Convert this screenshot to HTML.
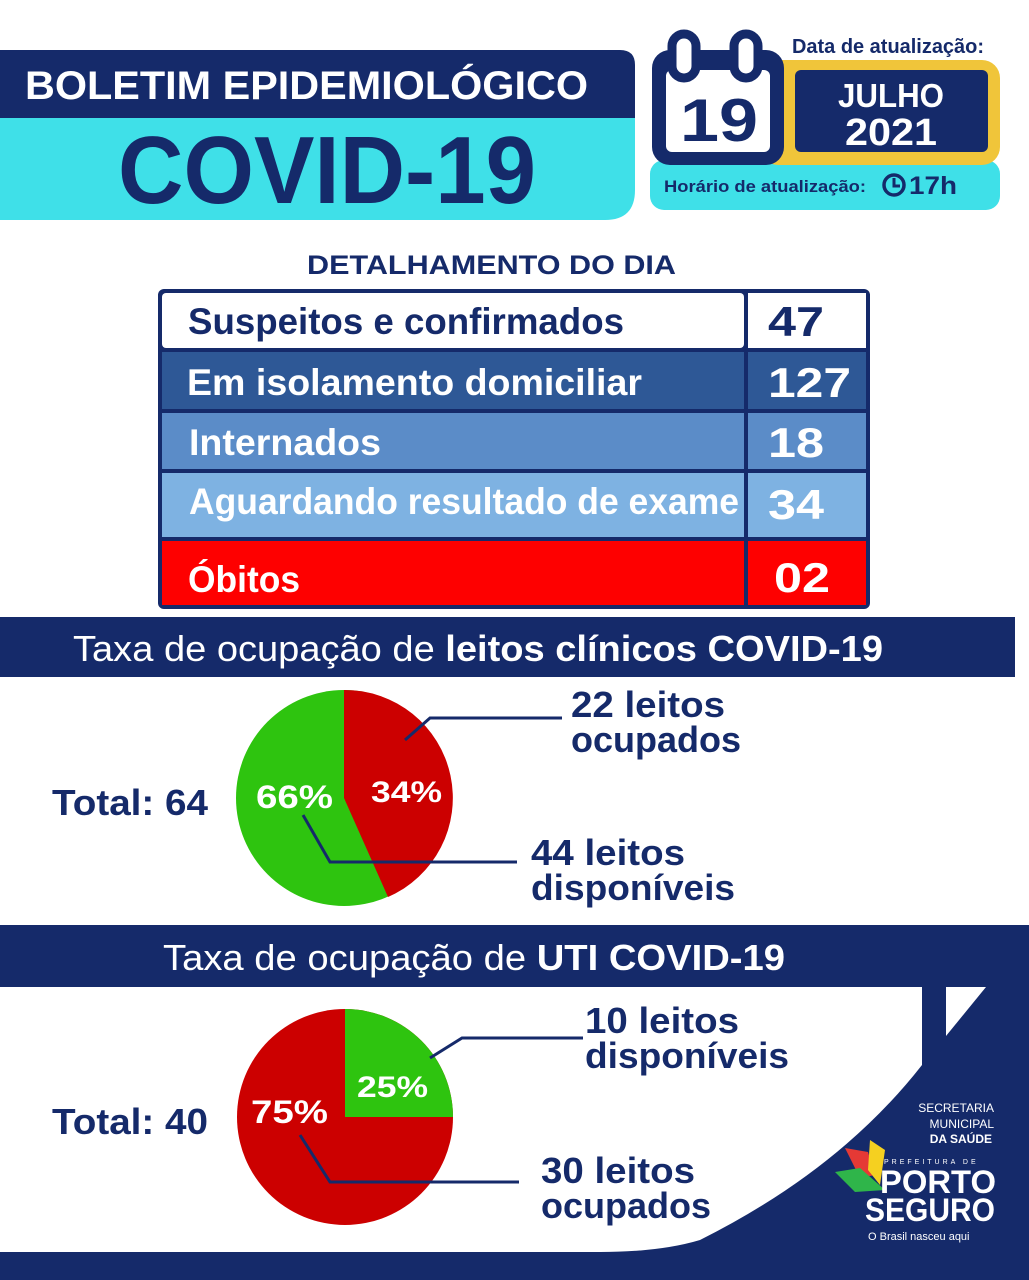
<!DOCTYPE html>
<html><head><meta charset="utf-8"><style>
html,body{margin:0;padding:0;background:#fff}
svg{display:block}
text{font-family:"Liberation Sans",sans-serif;font-weight:bold}
</style></head><body>
<svg width="1029" height="1280" viewBox="0 0 1029 1280" xmlns="http://www.w3.org/2000/svg">
<rect width="1029" height="1280" fill="#fff"/>
<!-- header left -->
<path d="M0 118 H635 V190 Q635 220 605 220 H0 Z" fill="#3fe0e8"/>
<path d="M0 50 H620 Q635 50 635 65 V118 H0 Z" fill="#152a6a"/>
<text x="25" y="99" font-size="40" fill="#fff" textLength="563" lengthAdjust="spacingAndGlyphs">BOLETIM EPIDEMIOLÓGICO</text>
<text x="118" y="203" font-size="96" fill="#152a6a" textLength="418" lengthAdjust="spacingAndGlyphs">COVID-19</text>
<!-- header right -->
<rect x="650" y="160" width="350" height="50" rx="14" fill="#3fe0e8"/>
<rect x="760" y="60" width="240" height="105" rx="18" fill="#f0c53a"/>
<rect x="795" y="70" width="193" height="82" rx="6" fill="#152a6a"/>
<rect x="652" y="50" width="132" height="115" rx="18" fill="#152a6a"/>
<rect x="666" y="70" width="104" height="82" rx="6" fill="#fff"/>
<rect x="672" y="34" width="24" height="44" rx="12" fill="#fff" stroke="#152a6a" stroke-width="9"/>
<rect x="734" y="34" width="24" height="44" rx="12" fill="#fff" stroke="#152a6a" stroke-width="9"/>
<text x="680" y="141" font-size="60" fill="#152a6a" textLength="78" lengthAdjust="spacingAndGlyphs">19</text>
<text x="792" y="53" font-size="20" fill="#152a6a" textLength="192" lengthAdjust="spacingAndGlyphs">Data de atualização:</text>
<text x="891" y="107" font-size="33" fill="#fff" text-anchor="middle" textLength="106" lengthAdjust="spacingAndGlyphs">JULHO</text>
<text x="891" y="145" font-size="38" fill="#fff" text-anchor="middle" textLength="92" lengthAdjust="spacingAndGlyphs">2021</text>
<text x="664" y="192" font-size="17" fill="#152a6a" textLength="202" lengthAdjust="spacingAndGlyphs">Horário de atualização:</text>
<circle cx="894" cy="185" r="10" fill="none" stroke="#152a6a" stroke-width="3.5"/>
<path d="M894 178 V186 H900" fill="none" stroke="#152a6a" stroke-width="3"/>
<text x="909" y="194" font-size="25" fill="#152a6a" textLength="48" lengthAdjust="spacingAndGlyphs">17h</text>
<!-- detalhamento -->
<text x="307" y="274" font-size="27" fill="#152a6a" textLength="369" lengthAdjust="spacingAndGlyphs">DETALHAMENTO DO DIA</text>
<rect x="158" y="289" width="712" height="320" fill="#152a6a" rx="6"/>
<rect x="162" y="293" width="582" height="55" fill="#fff" rx="4"/><rect x="748" y="293" width="118" height="55" fill="#fff"/>
<rect x="162" y="352" width="582" height="57" fill="#2e5896"/><rect x="748" y="352" width="118" height="57" fill="#2e5896"/>
<rect x="162" y="413" width="582" height="56" fill="#5b8cc8"/><rect x="748" y="413" width="118" height="56" fill="#5b8cc8"/>
<rect x="162" y="473" width="582" height="64" fill="#7eb2e2"/><rect x="748" y="473" width="118" height="64" fill="#7eb2e2"/>
<rect x="162" y="541" width="582" height="64" fill="#fe0000"/><rect x="748" y="541" width="118" height="64" fill="#fe0000"/>
<text x="188" y="334" font-size="37" fill="#152a6a" textLength="436" lengthAdjust="spacingAndGlyphs">Suspeitos e confirmados</text>
<text x="768" y="336" font-size="42" fill="#152a6a" textLength="56" lengthAdjust="spacingAndGlyphs">47</text>
<text x="187" y="395" font-size="37" fill="#fff" textLength="455" lengthAdjust="spacingAndGlyphs">Em isolamento domiciliar</text>
<text x="768" y="397" font-size="42" fill="#fff" textLength="83" lengthAdjust="spacingAndGlyphs">127</text>
<text x="189" y="455" font-size="37" fill="#fff" textLength="192" lengthAdjust="spacingAndGlyphs">Internados</text>
<text x="768" y="457" font-size="42" fill="#fff" textLength="56" lengthAdjust="spacingAndGlyphs">18</text>
<text x="189" y="514" font-size="37" fill="#fff" textLength="550" lengthAdjust="spacingAndGlyphs">Aguardando resultado de exame</text>
<text x="768" y="519" font-size="42" fill="#fff" textLength="56" lengthAdjust="spacingAndGlyphs">34</text>
<text x="188" y="592" font-size="37" fill="#fff" textLength="112" lengthAdjust="spacingAndGlyphs">Óbitos</text>
<text x="774" y="592" font-size="42" fill="#fff" textLength="56" lengthAdjust="spacingAndGlyphs">02</text>
<!-- band 1 -->
<rect x="0" y="617" width="1015" height="60" fill="#152a6a"/>
<text x="73" y="661" font-size="36" fill="#fff" textLength="810" lengthAdjust="spacingAndGlyphs"><tspan font-weight="normal">Taxa de ocupação de </tspan>leitos clínicos COVID-19</text>
<!-- pie 1 -->
<circle cx="344" cy="798" r="108" fill="#2ec40f"/>
<path d="M344 798 L344 690 A108 108 0 0 1 388 897 Z" fill="#cc0000"/>
<polyline points="405,740 430,718 562,718" fill="none" stroke="#152a6a" stroke-width="3"/>
<polyline points="303,815 330,862 517,862" fill="none" stroke="#152a6a" stroke-width="3"/>
<text x="256" y="808" font-size="32" fill="#fff" textLength="77" lengthAdjust="spacingAndGlyphs">66%</text>
<text x="371" y="802" font-size="30" fill="#fff" textLength="71" lengthAdjust="spacingAndGlyphs">34%</text>
<text x="52" y="815" font-size="36" fill="#152a6a" textLength="156" lengthAdjust="spacingAndGlyphs">Total: 64</text>
<text x="571" y="717" font-size="36" fill="#152a6a" textLength="154" lengthAdjust="spacingAndGlyphs">22 leitos</text>
<text x="571" y="752" font-size="36" fill="#152a6a" textLength="170" lengthAdjust="spacingAndGlyphs">ocupados</text>
<text x="531" y="865" font-size="36" fill="#152a6a" textLength="154" lengthAdjust="spacingAndGlyphs">44 leitos</text>
<text x="531" y="900" font-size="36" fill="#152a6a" textLength="204" lengthAdjust="spacingAndGlyphs">disponíveis</text>
<!-- band 2 + bottom -->
<rect x="0" y="925" width="1029" height="355" fill="#152a6a"/>
<text x="163" y="970" font-size="36" fill="#fff" textLength="622" lengthAdjust="spacingAndGlyphs"><tspan font-weight="normal">Taxa de ocupação de </tspan>UTI COVID-19</text>
<path d="M0 987 H922 V1065 Q840 1170 700 1240 Q660 1252 600 1252 H0 Z" fill="#fff"/>
<path d="M946 987 H986 L946 1036 Z" fill="#fff"/>
<!-- pie 2 -->
<circle cx="345" cy="1117" r="108" fill="#cc0000"/>
<path d="M345 1117 L345 1009 A108 108 0 0 1 453 1117 Z" fill="#2ec40f"/>
<polyline points="430,1058 462,1038 583,1038" fill="none" stroke="#152a6a" stroke-width="3"/>
<polyline points="300,1135 330,1182 519,1182" fill="none" stroke="#152a6a" stroke-width="3"/>
<text x="357" y="1097" font-size="30" fill="#fff" textLength="71" lengthAdjust="spacingAndGlyphs">25%</text>
<text x="251" y="1123" font-size="32" fill="#fff" textLength="77" lengthAdjust="spacingAndGlyphs">75%</text>
<text x="52" y="1134" font-size="36" fill="#152a6a" textLength="156" lengthAdjust="spacingAndGlyphs">Total: 40</text>
<text x="585" y="1033" font-size="36" fill="#152a6a" textLength="154" lengthAdjust="spacingAndGlyphs">10 leitos</text>
<text x="585" y="1068" font-size="36" fill="#152a6a" textLength="204" lengthAdjust="spacingAndGlyphs">disponíveis</text>
<text x="541" y="1183" font-size="36" fill="#152a6a" textLength="154" lengthAdjust="spacingAndGlyphs">30 leitos</text>
<text x="541" y="1218" font-size="36" fill="#152a6a" textLength="170" lengthAdjust="spacingAndGlyphs">ocupados</text>
<!-- logo -->
<text x="994" y="1112" font-size="12" font-weight="normal" fill="#fff" text-anchor="end" style="font-weight:normal">SECRETARIA</text>
<text x="994" y="1128" font-size="12" fill="#fff" text-anchor="end" style="font-weight:normal">MUNICIPAL</text>
<text x="992" y="1143" font-size="12" fill="#fff" text-anchor="end">DA SAÚDE</text>
<path d="M845 1148 L868 1152 L875 1175 L860 1178 Z" fill="#e53935"/>
<path d="M870 1140 L885 1150 L880 1185 L868 1170 Z" fill="#f5d020"/>
<path d="M835 1172 L860 1168 L885 1190 L855 1192 Z" fill="#2fb54a"/>
<text x="884" y="1164" font-size="7" fill="#fff" letter-spacing="3" style="font-weight:normal">PREFEITURA DE</text>
<text x="880" y="1193" font-size="32" fill="#fff" textLength="116" lengthAdjust="spacingAndGlyphs">PORTO</text>
<text x="865" y="1221" font-size="32" fill="#fff" textLength="130" lengthAdjust="spacingAndGlyphs">SEGURO</text>
<text x="868" y="1240" font-size="11" fill="#fff" style="font-weight:normal">O Brasil nasceu aqui</text>
</svg>
</body></html>
